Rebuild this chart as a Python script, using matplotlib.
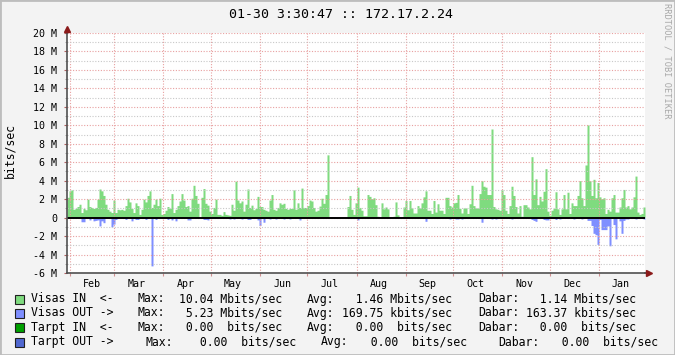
import numpy as np
import matplotlib
matplotlib.use("Agg")
import matplotlib.pyplot as plt
import matplotlib.dates as mdates
from matplotlib.ticker import MultipleLocator, FuncFormatter, NullFormatter
from matplotlib.patches import Rectangle
from datetime import datetime, timedelta

# time span shown: one year up to the time in the title
END_TIME = datetime(2011, 1, 30, 3, 30, 47)
START_TIME = END_TIME - timedelta(days=365)

# Visas IN, Mbit/s, one value per ~1.26 days
visas_in = [
    2.2, 2.9, 3.0, 0.9, 1.0, 1.2, 1.45, 0.55, 1.0, 0.85,
    2.0, 1.2, 1.1, 1.0, 1.1, 2.0, 3.1, 2.9, 2.4, 1.45,
    0.9, 0.7, 0.55, 1.9, 0.55, 0.9, 0.85, 0.9, 0.8, 1.3,
    2.1, 1.7, 1.0, 0.55, 1.6, 1.3, 0.35, 0.9, 2.0, 1.7,
    2.4, 2.9, 1.1, 1.45, 2.0, 1.3, 2.1, 0.35, 0.45,
    # Apr - May
    0.8, 1.2, 1.0, 2.6, 0.55, 0.9, 1.3, 1.8, 2.6, 1.9,
    1.2, 1.3, 0.7, 2.1, 3.5, 2.4, 1.55, 0.0, 2.2, 3.15,
    1.55, 1.35, 0.7, 0.45, 1.1, 2.0, 0.35, 0.35, 0.25, 0.65,
    0.35, 0.3, 0.25, 1.45, 0.8, 3.95, 1.9, 1.6, 1.8, 0.7,
    1.45, 3.1, 1.1, 1.35, 0.85, 1.0, 2.3, 1.2, 1.2,
    # Jun - Aug
    0.9, 0.8, 0.7, 1.9, 2.5, 0.9, 0.8, 1.1, 1.6, 1.45,
    1.55, 1.0, 0.9, 1.0, 1.0, 3.0, 0.9, 1.6, 1.1, 3.2,
    1.1, 1.1, 1.3, 1.9, 1.8, 1.1, 0.7, 0.8, 1.25, 2.1,
    1.55, 2.5, 6.8, 0.0, 0.0, 0.0, 0.0, 0.0, 0.0, 0.0,
    0.0, 0.0, 1.2, 2.4, 0.9, 0.35, 1.6, 3.3, 1.1,
    # Aug - Oct
    0.8, 0.2, 0.2, 2.5, 2.3, 2.05, 2.15, 1.4, 0.15, 0.0,
    1.6, 0.95, 1.15, 0.95, 0.0, 0.0, 0.15, 1.7, 0.3, 0.0,
    0.0, 1.15, 1.85, 0.85, 1.85, 1.05, 0.5, 0.5, 1.3, 1.05,
    1.6, 2.25, 2.9, 0.8, 0.8, 0.45, 1.85, 0.6, 1.5, 0.8,
    0.8, 0.45, 2.2, 2.2, 1.3, 1.15, 1.6, 1.65, 2.5,
    # Oct - Dec
    1.0, 0.5, 1.05, 1.05, 0.45, 1.5, 3.5, 1.3, 1.05, 1.05,
    2.6, 4.0, 3.4, 3.3, 2.5, 2.5, 9.6, 1.2, 0.95, 0.9,
    0.8, 3.0, 2.5, 0.8, 0.45, 1.3, 3.4, 2.4, 1.2, 0.5,
    1.3, 0.15, 1.4, 1.4, 1.15, 0.95, 6.6, 2.5, 4.2, 1.4,
    2.3, 1.8, 2.85, 5.3, 0.7, 0.25, 0.8, 1.0, 2.8,
    # Dec - Jan
    0.95, 0.35, 0.95, 2.5, 0.95, 2.75, 0.45, 1.6, 1.3, 1.3,
    2.4, 4.0, 2.15, 1.3, 5.7, 10.04, 4.0, 2.4, 4.15, 2.15,
    3.8, 2.25, 2.05, 2.15, 0.45, 0.9, 0.7, 2.15, 2.5, 0.6,
    0.6, 1.15, 2.15, 3.05, 1.15, 1.3, 0.95, 1.15, 2.25, 4.5,
    0.6, 0.35, 0.45, 1.15,
]

# Visas OUT, Mbit/s (drawn downwards), only the slots where it is visible
out_slot = [7, 8, 11, 13, 14, 15, 16, 17, 18, 22, 23, 24, 29, 32, 34, 35, 39, 42, 44,
            50, 52, 54, 60, 61, 68, 69, 70, 81, 83, 87, 90, 91, 95, 96,
            98, 101, 104, 108, 111, 116, 145,
            179, 191, 194, 195, 197, 207, 212, 214, 222, 232, 233, 234, 238, 239, 240, 244,
            246, 253, 257, 260, 261, 262, 263, 264, 265, 266, 267, 268, 269, 270, 271,
            273, 274, 276, 277, 278, 279, 280, 284, 288]
out_mbps = [0.45, 0.45, 0.25, 0.35, 0.3, 0.25, 0.9, 0.35, 0.55, 1.0, 0.7, 0.2, 0.2, 0.35, 0.2, 0.2, 0.2, 5.23, 0.2,
            0.2, 0.25, 0.35, 0.25, 0.25, 0.2, 0.2, 0.25, 0.15, 0.15, 0.15, 0.2, 0.2, 0.25, 0.85,
            0.5, 0.15, 0.15, 0.15, 0.15, 0.25, 0.25,
            0.4, 0.15, 0.15, 0.15, 0.15, 0.5, 0.15, 0.15, 0.15, 0.2, 0.3, 0.4, 0.2, 0.25, 0.25, 0.2,
            0.15, 0.15, 0.15, 0.3, 0.3, 0.85, 1.7, 1.85, 2.9, 0.2, 1.3, 1.3, 1.3, 0.9, 3.05,
            0.75, 2.3, 0.35, 1.7, 0.3, 0.15, 0.15, 0.15, 0.15]

# legend rows
names = ["Visas IN  <-", "Visas OUT ->", "Tarpt IN  <-", "Tarpt OUT ->"]
max_txt = ["10.04 Mbits/sec", " 5.23 Mbits/sec", " 0.00  bits/sec", " 0.00  bits/sec"]
avg_txt = ["  1.46 Mbits/sec", "169.75 kbits/sec", "  0.00  bits/sec", "  0.00  bits/sec"]
cur_txt = ["  1.14 Mbits/sec", "163.37 kbits/sec", "  0.00  bits/sec", "  0.00  bits/sec"]
swatch = ["#7FDB7F", "#7F8FFF", "#00A000", "#5068D0"]

W, H = 675, 355
MONO = "DejaVu Sans Mono"
plt.rcParams["font.family"] = MONO

fig = plt.figure(figsize=(W / 100, H / 100), dpi=100, facecolor="#F3F3F3")
fig.patches.append(Rectangle((0, 0), 1, 1, transform=fig.transFigure, fill=False,
                             edgecolor="#BDBDBD", linewidth=2))

ax = fig.add_axes([67 / W, 82 / H, 578 / W, 240 / H])
ax.set_facecolor("white")

n = len(visas_in)
edges = np.linspace(mdates.date2num(START_TIME), mdates.date2num(END_TIME), n + 1)
vin = np.array(visas_in) * 1e6
vout = np.zeros(n)
vout[out_slot] = -np.array(out_mbps) * 1e6

ax.fill_between(edges, np.append(vin, vin[-1]), step="post", color=swatch[0],
                linewidth=0, zorder=1)
ax.fill_between(edges, np.append(vout, vout[-1]), step="post", color=swatch[1],
                linewidth=0, zorder=1)
ax.axhline(0, color="black", linewidth=1.4, zorder=4)

ax.set_xlim(edges[0], edges[-1])
ax.set_ylim(-6e6, 20e6)

# y axis
ax.yaxis.set_major_locator(MultipleLocator(2e6))
ax.yaxis.set_minor_locator(MultipleLocator(1e6))
ax.yaxis.set_major_formatter(FuncFormatter(
    lambda v, p: "0" if abs(v) < 1 else "%d M" % round(v / 1e6)))

# x axis: gridlines at month starts, labels mid-month
ax.xaxis.set_major_locator(mdates.MonthLocator())
ax.xaxis.set_major_formatter(NullFormatter())
ax.xaxis.set_minor_locator(mdates.MonthLocator(bymonthday=15))
ax.xaxis.set_minor_formatter(mdates.DateFormatter("%b"))

ax.set_axisbelow(False)
ax.grid(which="major", axis="both", color="#E8A0A0", linestyle=(0, (1, 1.5)),
        linewidth=0.8, zorder=3)
ax.grid(which="minor", axis="y", color="#C8C8C8", linestyle=(0, (1, 1.5)),
        linewidth=0.8, zorder=3)

ax.tick_params(axis="y", which="major", length=2, width=0.8, color="#B06060",
               labelsize=7.2, pad=5, labelcolor="black")
ax.tick_params(axis="y", which="minor", length=1.5, width=0.6, color="#999999")
ax.tick_params(axis="x", which="major", length=2, width=0.8, color="#D09090")
ax.tick_params(axis="x", which="minor", length=0, labelsize=7.2, pad=4)

for s in ["top", "right"]:
    ax.spines[s].set_visible(False)
for s in ["left", "bottom"]:
    ax.spines[s].set_color("#505050")
    ax.spines[s].set_linewidth(1.2)
    ax.spines[s].set_zorder(5)

# axis arrows
ax.plot([0], [1.018], marker="^", color="#8B1A1A", markersize=4, transform=ax.transAxes,
        clip_on=False, zorder=6)
ax.plot([0, 0], [1.0, 1.018], color="#505050", linewidth=1.2, transform=ax.transAxes,
        clip_on=False, zorder=5)
ax.plot([1.007], [0], marker=">", color="#8B1A1A", markersize=4, transform=ax.transAxes,
        clip_on=False, zorder=6)
ax.plot([1.0, 1.007], [0, 0], color="#505050", linewidth=1.2, transform=ax.transAxes,
        clip_on=False, zorder=5)

# texts
fig.text(341 / W, 1 - 15 / H, "01-30 3:30:47 :: 172.17.2.24", ha="center", va="center",
         fontsize=9.5, family=MONO)
fig.text(10 / W, 1 - 150 / H, "bits/sec", rotation=90, ha="center", va="center",
         fontsize=8.3, family=MONO)
fig.text(667 / W, 1 - 61 / H, "RRDTOOL / TOBI OETIKER", rotation=270, ha="center",
         va="center", fontsize=6.2, color="#A8A8A8", family=MONO)

row_y = [299, 313, 327.5, 342]
col_x = [[31, 137, 179, 307, 342, 478, 526]] * 3 + [[31, 145, 193, 321, 357, 498, 548]]
for i in range(4):
    y = 1 - row_y[i] / H
    fig.patches.append(Rectangle((15 / W, y - 4.5 / H), 9 / W, 9 / H, transform=fig.transFigure,
                                 facecolor=swatch[i], edgecolor="#202020", linewidth=0.8))
    cx = col_x[i]
    parts = [names[i], "Max:", max_txt[i], "Avg:", avg_txt[i], "Dabar:", cur_txt[i]]
    if i == 3:
        parts[2] = parts[2].replace("0.00  bits", "0.00  bits")
    for x, t in zip(cx, parts):
        fig.text(x / W, y, t, ha="left", va="center", fontsize=8.3, family=MONO)

fig.savefig("out.png", dpi=100, facecolor=fig.get_facecolor())
